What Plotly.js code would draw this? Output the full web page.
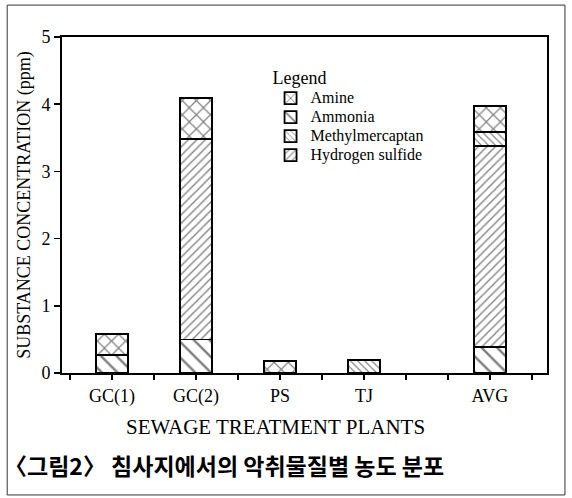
<!DOCTYPE html>
<html>
<head>
<meta charset="utf-8">
<script src="https://cdn.plot.ly/plotly-3.0.1.min.js"></script>
<style>html,body{margin:0;padding:0;background:#fff;}#chart{width:572px;height:498px;}</style>
</head>
<body>
<div id="chart"></div>
<script>
// ---- data ----
const plants = ['GC(1)', 'GC(2)', 'PS', 'TJ', 'AVG'];
const ammonia = [0.27, 0.50, 0, 0, 0.39];
const hydrogenSulfide = [0, 2.98, 0, 0, 2.99];
const methylmercaptan = [0, 0, 0, 0.19, 0.21];
const amine = [0.31, 0.61, 0.18, 0, 0.38];
const yTicks = [0, 1, 2, 3, 4, 5];

// axis slots for the plants (AVG set apart)
const plantSlots = [1, 2, 3, 4, 5.5];

const serif = 'Liberation Serif, Times New Roman, serif';
function mk(name, vals, shape, size, rank) {
  return {
    type: 'bar', name: '<span style="font-size:16px">' + name + '</span>',
    x: plantSlots, y: vals, width: 0.38,
    legendrank: rank,
    marker: {
      color: 'white',
      line: {color: 'black', width: 1.8},
      pattern: {shape: shape, fgcolor: 'black', bgcolor: 'white', size: size, solidity: 0.22, fillmode: 'overlay'}
    },
    hoverinfo: 'skip'
  };
}
const traces = [
  mk('Ammonia', ammonia, '\\', 11, 2),
  mk('Hydrogen sulfide', hydrogenSulfide, '/', 6, 4),
  mk('Methylmercaptan', methylmercaptan, '\\', 5, 3),
  mk('Amine', amine, 'x', 10, 1)
];

const layout = {
  width: 572, height: 498,
  margin: {l: 62, r: 25, t: 37, b: 125},
  paper_bgcolor: 'white', plot_bgcolor: 'white',
  barmode: 'stack',
  font: {family: serif, color: 'black', size: 16},
  showlegend: true,
  legend: {
    x: 0.43, y: 0.95, xanchor: 'left', yanchor: 'top',
    traceorder: 'normal',
    title: {text: '<span style="font-size:18px">Legend</span>', font: {family: serif, size: 23}},
    font: {family: serif, size: 12},
    bgcolor: 'rgba(0,0,0,0)', tracegroupgap: 0, itemwidth: 30
  },
  xaxis: {
    range: [0.405, 6.18],
    tickvals: plantSlots, ticktext: plants,
    ticks: 'outside', ticklen: 5, tickwidth: 1.5, tickcolor: 'black',
    minor: {tick0: 0.5, dtick: 0.5, ticks: 'outside', ticklen: 5, tickwidth: 1.5, tickcolor: 'black'},
    showline: true, linecolor: 'black', linewidth: 2, mirror: true,
    showgrid: false, zeroline: false,
    tickfont: {family: serif, size: 18}
  },
  yaxis: {
    range: [0, 5], tickvals: yTicks,
    ticks: 'outside', ticklen: 6, tickwidth: 1.5, tickcolor: 'black',
    showline: true, linecolor: 'black', linewidth: 2, mirror: true,
    showgrid: false, zeroline: false,
    tickfont: {family: serif, size: 18},
    title: {text: 'SUBSTANCE CONCENTRATION (ppm)', font: {family: serif, size: 18}, standoff: 6}
  },
  shapes: [{
    type: 'rect', xref: 'paper', yref: 'paper',
    x0: -0.113, x1: 1.037, y0: -0.363, y1: 1.095,
    line: {color: '#333', width: 1}
  }],
  annotations: [{
    xref: 'paper', yref: 'paper', x: 0.441, y: -0.161,
    xanchor: 'center', yanchor: 'middle', showarrow: false,
    text: 'SEWAGE TREATMENT PLANTS',
    font: {family: serif, size: 21, color: 'black'}
  }, {
    xref: 'paper', yref: 'paper', x: -0.124, y: -0.274,
    xanchor: 'left', yanchor: 'middle', showarrow: false,
    text: '<b>〈그림2〉 침사지에서의 악취물질별 농도 분포</b>',
    font: {family: 'Noto Sans CJK KR, Noto Sans, sans-serif', size: 23, color: 'black'}
  }]
};
Plotly.newPlot('chart', traces, layout, {displayModeBar: false, staticPlot: true});
</script>
</body>
</html>
